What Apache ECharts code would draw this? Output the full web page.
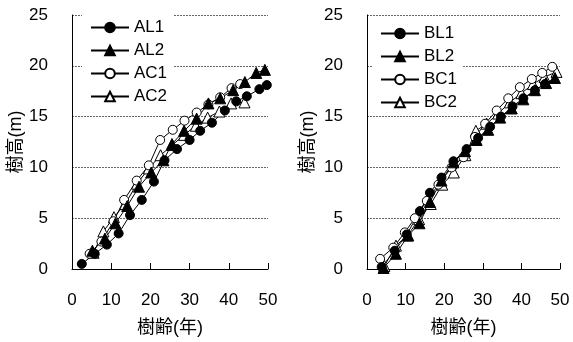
<!DOCTYPE html>
<html><head><meta charset="utf-8">
<script src="https://cdn.jsdelivr.net/npm/echarts@6/dist/echarts.min.js"></script>
<style>html,body{margin:0;padding:0;background:#fff;}#c{width:573px;height:342px;}</style>
</head><body><div id="c"></div>
<script>
// Left panel (A)
const AL1_x = [2.5,5.8,8.9,11.9,14.8,17.8,20.9,23.6,26.8,30.0,32.7,35.7,39.0,41.9,44.6,47.8,49.7];
const AL1_y = [0.5,1.5,2.4,3.5,5.3,6.8,8.6,10.7,11.8,12.7,13.6,14.4,15.6,16.5,17.0,17.7,18.1];
const AL2_x = [5.2,8.4,11.1,14.1,17.1,20.2,23.3,25.5,28.6,31.8,34.8,37.8,41.1,44.1,47.0,49.2];
const AL2_y = [1.8,3.0,4.5,6.2,8.1,9.5,10.7,12.3,13.6,14.8,16.3,16.8,17.6,18.4,19.3,19.6];
const AC1_x = [4.5,7.5,10.6,13.3,16.5,19.6,22.5,25.7,28.7,31.8,34.8,37.8,40.7,42.9];
const AC1_y = [1.5,2.7,4.7,6.8,8.7,10.2,12.7,13.7,14.6,15.4,16.2,16.9,17.8,18.2];
const AC2_x = [5.5,8.0,10.7,13.6,16.6,19.6,22.6,25.6,28.6,31.6,34.6,37.6,40.6,44.0];
const AC2_y = [1.6,3.7,5.1,6.4,8.4,9.9,11.2,12.2,13.2,14.1,14.9,15.5,16.3,16.4];
// Right panel (B)
const BL1_x = [3.8,7.2,10.3,13.7,16.3,19.3,22.4,25.8,28.8,31.9,34.7,37.7,40.5,43.5,46.1];
const BL1_y = [0.2,1.8,3.4,5.7,7.5,9.0,10.6,11.8,12.9,14.0,15.0,16.0,16.8,17.6,18.2];
const BL2_x = [4.3,7.5,10.7,13.6,16.3,19.3,22.4,25.4,28.4,31.4,34.5,37.5,40.5,43.5,46.4,48.7];
const BL2_y = [0.1,1.5,3.3,4.5,6.6,8.7,10.5,11.6,12.7,13.7,14.9,15.8,16.7,17.6,18.3,18.8];
const BC1_x = [3.4,6.8,9.8,12.4,15.5,18.5,21.9,25.0,28.0,30.6,33.6,36.6,39.6,42.7,45.4,48.0];
const BC1_y = [1.0,2.1,3.6,5.0,6.7,8.3,10.0,11.0,13.0,14.3,15.6,16.8,17.9,18.7,19.3,19.9];
const BC2_x = [4.5,7.5,10.5,13.5,16.5,19.5,22.5,25.5,28.2,31.0,34.0,37.0,40.0,43.0,46.0,49.1];
const BC2_y = [0.3,2.3,3.3,4.9,6.4,8.3,9.5,11.2,13.6,14.3,15.3,16.4,17.3,18.2,18.9,19.4];

const xTicks = [0,10,20,30,40,50];
const yTicks = [0,5,10,15,20,25];

const FONT = '"Liberation Sans", "Noto Sans CJK JP", sans-serif';
const zip = (xs, ys) => xs.map((x, i) => [x, ys[i]]);

function xAxis(idx){
  return {
    type:'value', gridIndex:idx, min:xTicks[0], max:xTicks[xTicks.length-1], interval:10,
    name:'樹齢(年)', nameLocation:'middle', nameGap:50,
    nameTextStyle:{fontSize:18, color:'#000', fontFamily:FONT},
    axisLine:{show:true, lineStyle:{color:'#000', width:1}},
    axisTick:{show:true, inside:true, length:6, lineStyle:{color:'#000'}},
    axisLabel:{fontSize:17, color:'#000', margin:23, fontFamily:FONT},
    splitLine:{show:false}
  };
}
function yAxis(idx, gap){
  return {
    type:'value', gridIndex:idx, min:yTicks[0], max:yTicks[yTicks.length-1], interval:5,
    name:'樹高(m)', nameLocation:'middle', nameGap:gap, nameRotate:90,
    nameTextStyle:{fontSize:18, color:'#000', fontFamily:FONT},
    axisLine:{show:true, onZero:false, lineStyle:{color:'#000', width:1}},
    axisTick:{show:false},
    axisLabel:{fontSize:17, color:'#000', margin:24, fontFamily:FONT},
    splitLine:{show:true, lineStyle:{color:'#666', type:[2,1], width:1}}
  };
}
function ser(name, idx, xs, ys, symbol, filled){
  return {
    name:name, type:'line', xAxisIndex:idx, yAxisIndex:idx,
    data:zip(xs, ys), symbol:symbol, symbolSize: symbol==='triangle'?11:9,
    showAllSymbol:true,
    lineStyle:{color:'#000', width:1},
    itemStyle:{color: filled ? '#000' : '#fff', borderColor:'#000', borderWidth:1},
    emphasis:{disabled:true}, animation:false
  };
}
function legend(idx, names, left, top){
  return {
    left:left, top:top, orient:'vertical', backgroundColor:'#fff',
    padding:[8,6,4,8], itemWidth:38, itemHeight:12, itemGap:6,
    textStyle:{fontSize:17, color:'#000', fontFamily:FONT, lineHeight:17},
    data:names, selectedMode:false
  };
}

const chart = echarts.init(document.getElementById('c'), null, {renderer:'canvas'});
chart.setOption({
  animation:false,
  backgroundColor:'#fff',
  grid:[
    {left:72, right:305, top:15, bottom:73},
    {left:367, right:13, top:15, bottom:72}
  ],
  xAxis:[xAxis(0), xAxis(1)],
  yAxis:[yAxis(0, 46), yAxis(1, 50)],
  legend:[
    legend(0, ['AL1','AL2','AC1','AC2'], 82, 11),
    legend(1, ['BL1','BL2','BC1','BC2'], 372, 17)
  ],
  series:[
    ser('AC2',0,AC2_x,AC2_y,'triangle',false),
    ser('AC1',0,AC1_x,AC1_y,'circle',false),
    ser('AL1',0,AL1_x,AL1_y,'circle',true),
    ser('AL2',0,AL2_x,AL2_y,'triangle',true),
    ser('BC2',1,BC2_x,BC2_y,'triangle',false),
    ser('BC1',1,BC1_x,BC1_y,'circle',false),
    ser('BL1',1,BL1_x,BL1_y,'circle',true),
    ser('BL2',1,BL2_x,BL2_y,'triangle',true)
  ]
});
</script></body></html>
